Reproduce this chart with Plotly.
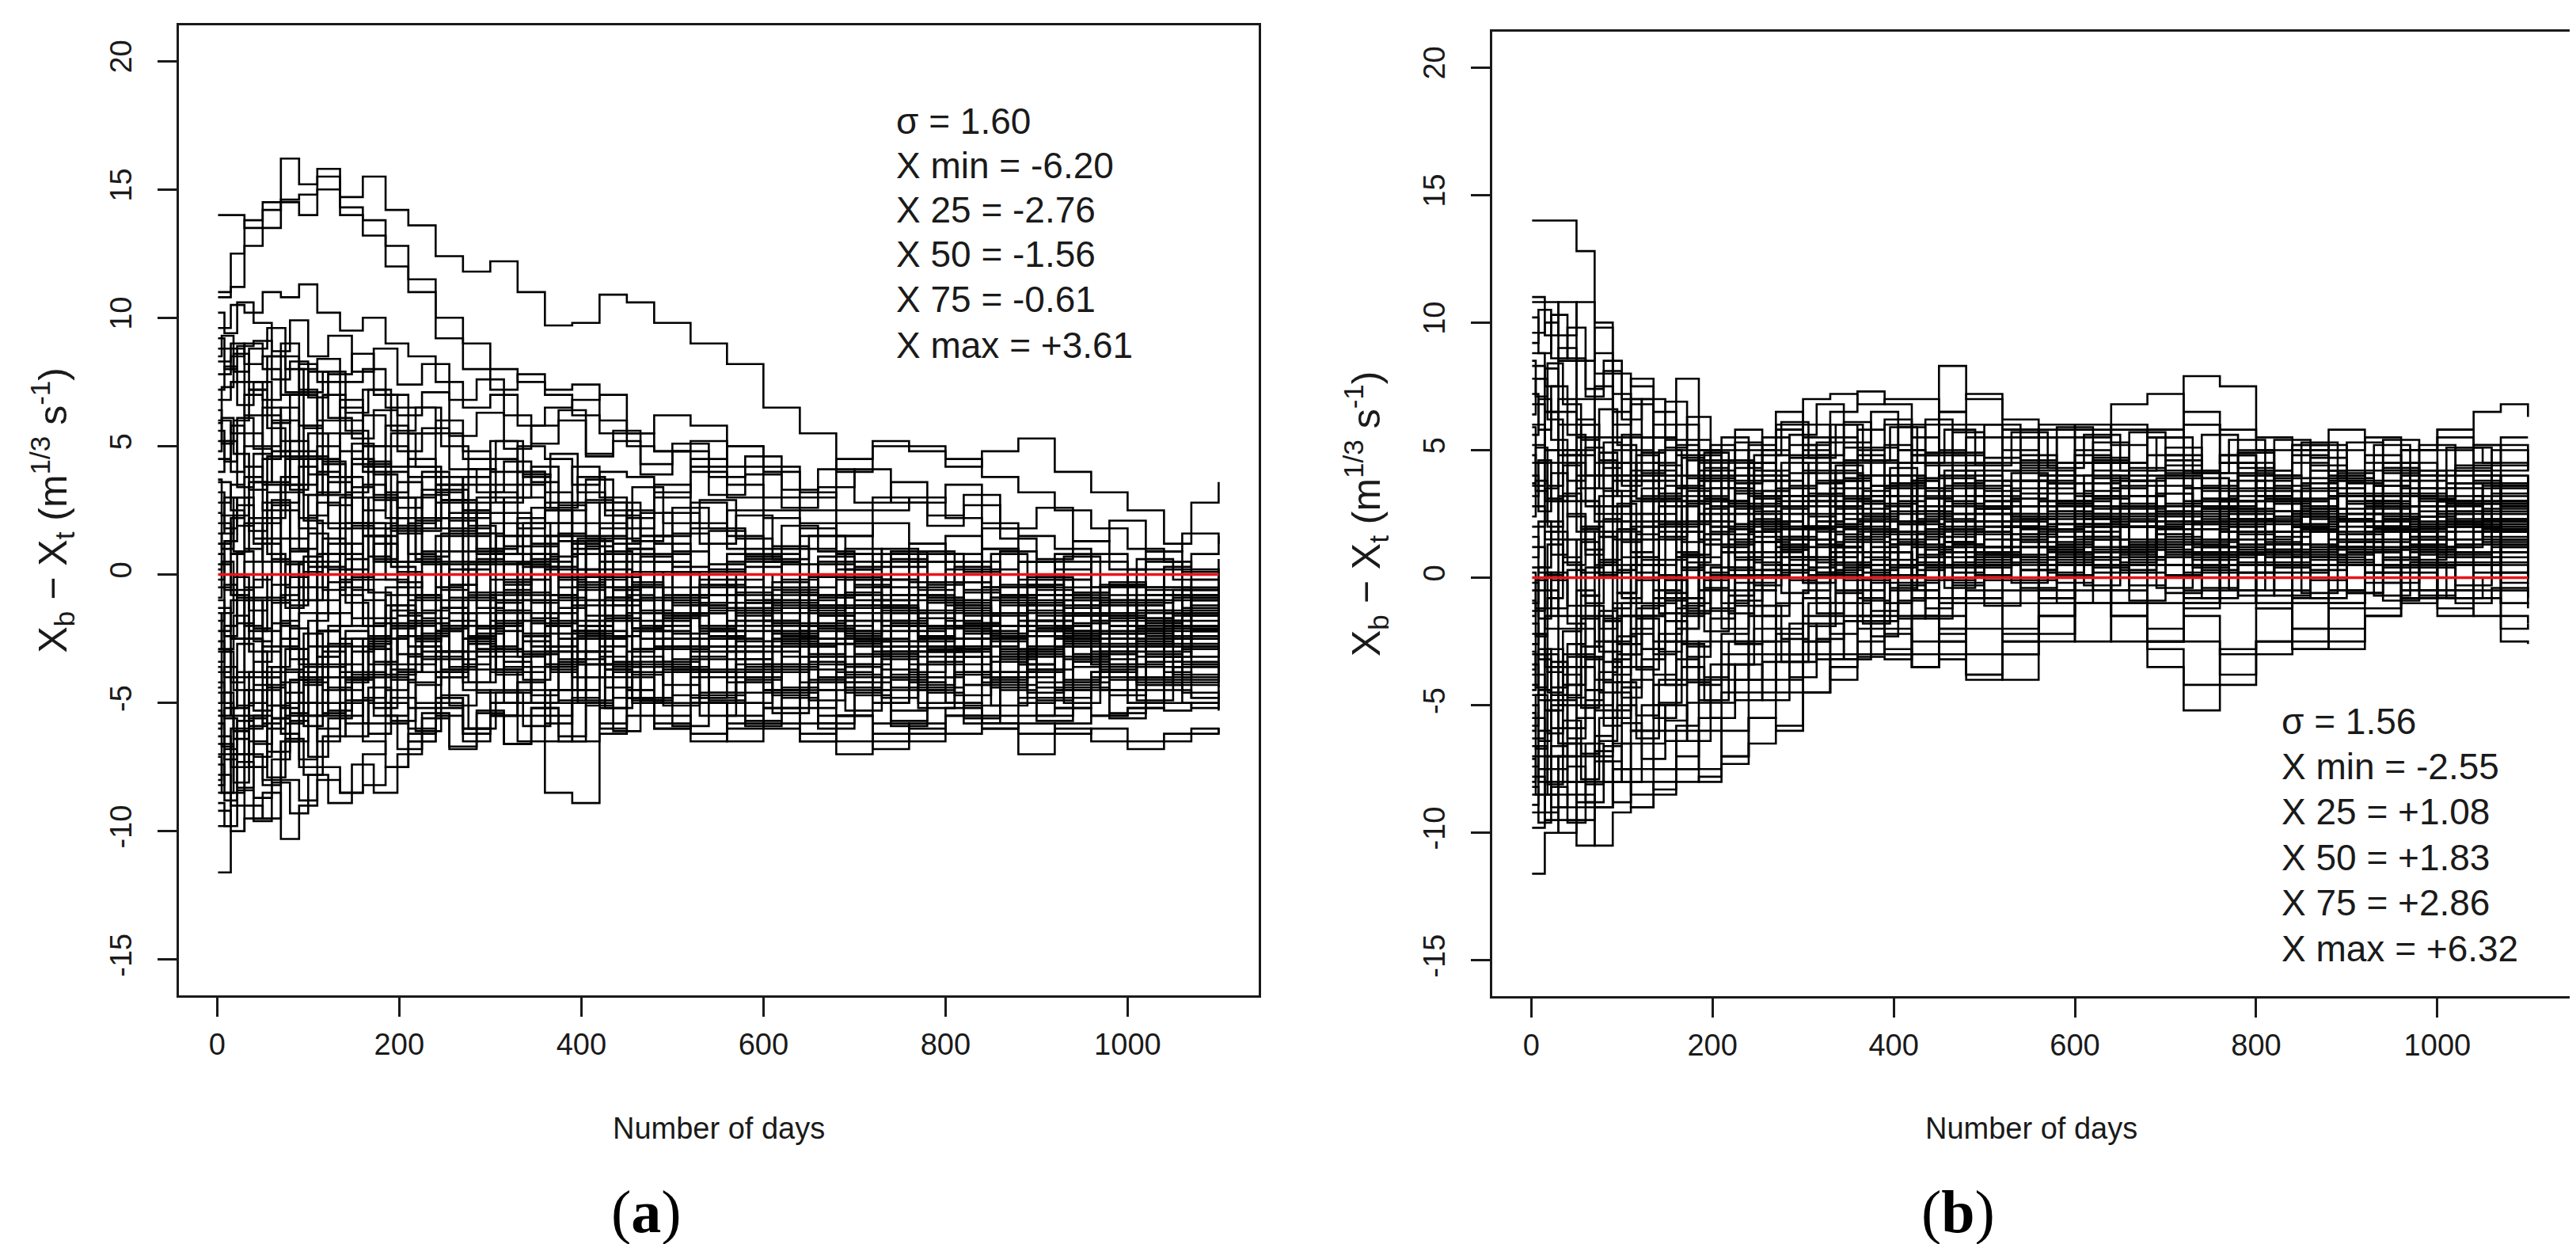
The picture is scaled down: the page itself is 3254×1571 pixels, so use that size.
import plotly.graph_objects as go

W, H = 3254, 1571

# day grids for the read-off values (step lines, R type="s")
DAYS = [1, 15, 30, 50, 70, 90, 110, 135, 160, 185, 210, 240, 270, 300, 330, 360, 390, 420,
        450, 480, 520, 560, 600, 640, 680, 720, 760, 800, 840, 880, 920, 960, 1000, 1040, 1070, 1100]
DAYS2 = [1, 8, 22, 40, 60, 80, 100, 122, 148, 172, 198, 225, 255, 285, 315, 345, 375, 405,
         435, 465, 500, 540, 580, 620, 660, 700, 740, 780, 820, 860, 900, 940, 980, 1020, 1060, 1100]
DAYS3 = [1, 5, 18, 35, 55, 75, 95, 116, 141, 166, 191, 218, 246, 276, 306, 336, 366, 396,
         426, 456, 490, 530, 570, 610, 650, 690, 730, 770, 810, 850, 890, 930, 970, 1010, 1050, 1100]

# (a) differences X_b - X_t, one list per simulation
SERIES_A = [
    [14.0, 14.0, 13.5, 14.2, 14.6, 14.8, 15.0, 14.7, 15.5, 14.2, 13.6, 12.4, 11.8, 12.2, 11.0, 9.7, 9.8, 10.9, 10.6, 9.8, 9.0, 8.2, 6.5, 5.5, 4.0, 5.0, 4.8, 4.5, 3.8, 3.2, 2.5, 1.8, 1.0, 0.5, 0.2, 0.0],
    [11.0, 12.5, 13.8, 14.5, 16.2, 15.2, 15.5, 14.3, 13.8, 12.8, 11.5, 10.0, 9.0, 8.0, 7.5, 7.0, 6.2, 5.5, 5.0, 4.8, 4.0, 3.5, 2.5, 2.0, 1.5, 2.0, 1.2, 0.5, 0.0, -0.5, -0.8, -1.0, -1.2, -0.8, -1.0, -1.2],
    [10.8, 11.2, 12.8, 13.5, 14.5, 14.0, 15.8, 14.0, 13.2, 12.0, 11.0, 9.2, 8.0, 7.2, 7.8, 7.2, 7.4, 6.0, 5.5, 6.2, 5.8, 5.0, 4.2, 3.2, 2.5, 3.0, 2.8, 3.5, 2.0, 1.5, 1.0, 0.5, 0.2, -0.5, -0.2, -0.5],
    [9.6, 10.5, 10.2, 11.0, 10.8, 11.3, 10.2, 9.5, 10.0, 9.0, 8.5, 7.5, 6.5, 7.0, 5.8, 6.5, 6.8, 7.0, 5.5, 4.8, 5.2, 4.2, 3.0, 2.5, 1.5, 2.5, 3.0, 2.2, 1.0, 0.5, -0.2, -0.5, 0.0, -0.8, -1.0, -1.5],
    [8.8, 9.0, 8.2, 8.5, 9.0, 8.0, 8.4, 7.5, 8.0, 7.0, 6.5, 5.5, 4.5, 4.0, 5.0, 4.5, 3.5, 4.0, 3.8, 3.0, 4.2, 5.0, 4.0, 3.0, 4.5, 5.2, 5.0, 4.2, 4.8, 5.3, 4.0, 3.2, 2.5, 1.2, 2.8, 3.6],
    [8.3, 8.8, 7.5, 6.8, 8.5, 7.2, 6.0, 6.5, 5.0, 5.8, 4.2, 3.5, 2.8, 4.5, 3.0, 2.0, 2.8, 1.5, 2.2, 3.5, 2.0, 1.0, 0.5, 1.8, 0.8, -0.5, 0.5, 1.5, 0.2, -0.5, 0.8, 0.0, -1.0, -1.5, -0.8, -1.2],
    [7.8, 8.5, 9.0, 8.0, 7.0, 8.2, 7.5, 6.0, 7.2, 6.5, 5.5, 6.0, 4.8, 3.5, 4.0, 2.5, 1.5, 2.8, 1.0, 0.5, 1.8, 2.5, 1.0, 0.0, -0.8, 0.5, 1.2, 0.0, -1.0, -0.5, -1.5, -0.8, -2.0, -1.5, -2.2, -1.8],
    [6.8, 7.5, 6.2, 5.0, 6.5, 5.8, 4.5, 5.5, 4.0, 3.2, 4.5, 2.8, 3.5, 2.0, 0.8, 1.5, 0.2, -0.5, 1.0, 0.0, -1.2, -0.5, -1.8, -1.0, -2.2, -1.5, -0.8, -2.0, -2.8, -2.0, -1.2, -2.5, -1.8, -2.8, -2.2, -2.5],
    [6.0, 5.5, 7.0, 6.2, 4.8, 3.5, 5.0, 3.8, 2.5, 4.0, 3.0, 1.8, 2.5, 1.0, 2.2, 0.5, 1.2, -0.2, -1.0, 0.5, -0.5, 0.8, -0.5, -1.5, -0.2, -1.2, -2.0, -1.0, -0.5, -1.8, -2.5, -1.2, -0.5, -1.8, -1.0, -0.6],
    [5.2, 4.0, 5.5, 3.5, 2.8, 4.2, 2.0, 3.0, 1.5, 0.5, 2.0, 3.2, 1.5, 2.8, 3.5, 2.0, 0.8, 1.8, 2.5, 1.2, 0.0, -0.8, 0.5, 1.5, 0.2, -1.0, -0.3, 0.8, -0.5, 0.5, -0.8, -1.5, -0.8, 0.3, 0.8, 1.5],
    [4.5, 5.8, 4.2, 2.5, 3.8, 1.8, 0.5, 2.0, 3.5, 2.2, 0.8, -0.5, 0.5, -1.0, -0.2, -1.5, -0.5, 0.8, -0.8, -2.0, -1.2, -2.5, -1.5, -2.8, -3.5, -2.2, -3.0, -1.8, -2.5, -3.2, -2.0, -2.8, -3.5, -2.5, -3.2, -2.8],
    [3.6, 2.5, 1.0, 2.8, 0.5, -1.0, 0.8, -0.5, 1.5, -0.2, -1.5, -0.5, -2.0, -1.0, 0.5, -0.8, -2.2, -1.2, -0.5, -1.8, -3.0, -2.0, -1.0, -2.5, -1.5, -2.8, -2.0, -3.2, -2.2, -1.5, -2.5, -3.5, -2.8, -2.0, -2.8, -3.2],
    [2.8, 3.5, 5.0, 6.5, 5.2, 7.0, 5.5, 6.8, 5.0, 4.2, 5.5, 3.8, 2.5, 3.2, 1.8, 2.5, 1.0, 2.0, 0.5, 1.5, 2.8, 1.5, 0.5, -0.5, 0.8, 0.0, -1.0, 0.2, 1.0, -0.2, 0.5, -0.5, -1.2, -0.5, -1.5, -1.0],
    [2.0, 0.8, -0.5, 1.2, -1.0, 0.5, -1.5, -0.2, -2.0, -0.8, 0.5, -1.0, -2.5, -1.5, -3.0, -2.0, -1.0, -2.5, -3.5, -2.2, -1.5, -3.0, -2.0, -3.5, -2.5, -1.8, -3.2, -2.5, -3.8, -3.0, -2.2, -3.0, -4.0, -3.2, -2.5, -3.0],
    [1.2, 2.2, 3.8, 4.5, 6.0, 4.8, 3.2, 4.8, 6.2, 5.0, 3.8, 2.2, 3.8, 5.2, 4.0, 2.8, 4.2, 3.0, 1.8, 3.2, 4.5, 3.0, 2.2, 1.0, 2.0, 0.8, -0.5, 0.5, 1.8, 0.5, -0.2, 0.8, -0.5, 0.2, -0.8, 0.0],
    [0.4, -0.8, -2.0, -1.0, -2.8, -1.5, -3.2, -2.0, -1.0, -2.5, -3.5, -2.2, -1.0, -2.8, -1.8, -3.5, -2.5, -4.0, -3.0, -1.8, -3.2, -4.2, -3.5, -2.5, -3.8, -4.5, -3.5, -2.8, -4.0, -3.2, -4.5, -3.8, -3.0, -4.0, -3.5, -4.2],
    [-0.5, 0.8, 2.0, 0.5, 2.5, 1.0, 2.8, 1.2, 0.0, 1.8, 0.5, 1.5, 0.2, -0.8, 0.5, 1.5, 0.0, -1.0, 0.8, -0.5, -1.5, -0.2, 0.8, -0.8, -1.8, -0.5, 0.5, -1.2, -2.0, -0.8, 0.2, -1.0, -2.2, -1.5, -0.5, -1.5],
    [-1.3, -2.5, -1.0, -3.0, -1.8, -0.5, -2.2, -3.8, -2.5, -1.2, -2.8, -4.0, -3.0, -1.8, -3.2, -4.5, -3.5, -2.2, -3.8, -5.0, -4.0, -3.0, -4.5, -5.2, -4.2, -3.2, -4.5, -5.0, -4.0, -3.5, -4.8, -4.0, -5.0, -4.2, -4.8, -4.5],
    [-2.2, -1.0, 0.5, 2.0, 3.5, 2.2, 4.0, 5.5, 4.2, 3.0, 1.8, 3.5, 2.2, 0.8, 2.0, 3.2, 2.0, 0.5, -0.5, 0.8, -0.8, 0.5, -1.0, -2.0, -0.8, -1.8, -2.8, -1.5, -0.5, -1.8, -1.0, -2.2, -1.5, -2.5, -1.8, -2.0],
    [-3.0, -4.2, -2.5, -4.0, -5.2, -3.8, -2.2, -3.5, -4.8, -3.5, -2.0, -3.2, -4.5, -5.5, -4.2, -3.0, -4.5, -5.8, -4.5, -3.5, -5.0, -6.0, -5.2, -6.2, -5.5, -6.5, -6.0, -5.5, -6.0, -5.8, -6.2, -6.0, -6.5, -6.2, -6.0, -6.2],
    [-3.8, -2.5, -1.0, -2.2, -0.8, 0.5, -1.0, 0.8, 2.0, 0.5, -0.8, 0.5, 1.8, 0.5, -1.0, 0.2, -1.2, -2.5, -1.0, 0.0, -1.5, -2.8, -1.8, -0.8, -2.2, -3.0, -2.0, -1.0, -2.5, -3.5, -2.8, -1.8, -2.5, -3.2, -2.2, -2.8],
    [-4.6, -5.5, -4.0, -2.8, -4.2, -5.5, -4.0, -2.5, -3.8, -5.0, -6.0, -4.8, -6.2, -5.0, -3.8, -5.0, -6.5, -5.2, -4.0, -5.5, -6.2, -5.0, -6.0, -6.5, -5.5, -6.8, -6.2, -5.5, -5.8, -6.2, -5.8, -5.5, -5.2, -5.0, -5.2, -5.0],
    [-5.5, -4.0, -2.5, -3.8, -2.0, -3.5, -1.5, -2.8, -4.0, -2.5, -1.0, -2.2, -3.5, -2.0, -0.8, -2.0, -3.0, -1.8, -0.5, -1.5, -2.8, -1.8, -0.8, -2.0, -1.2, -0.2, -1.5, -2.5, -1.5, -0.8, -2.0, -1.2, -0.5, -1.8, -1.2, -1.6],
    [-6.3, -7.5, -6.0, -4.5, -6.2, -7.2, -5.5, -4.0, -5.8, -4.5, -3.2, -4.8, -6.0, -5.5, -6.5, -8.5, -8.9, -6.2, -5.5, -6.0, -5.0, -5.8, -5.2, -4.5, -5.5, -5.0, -4.2, -5.0, -5.5, -4.8, -5.2, -4.5, -5.0, -4.5, -4.8, -5.0],
    [-7.0, -6.0, -4.5, -5.8, -3.8, -5.0, -3.2, -4.5, -2.8, -4.0, -5.2, -3.8, -2.5, -3.8, -5.0, -3.5, -2.2, -3.5, -4.8, -3.8, -2.5, -3.8, -4.5, -3.2, -4.0, -5.0, -4.2, -3.2, -4.0, -5.0, -4.5, -3.8, -4.5, -3.8, -4.2, -3.8],
    [-7.8, -9.0, -7.5, -8.2, -6.5, -7.5, -6.0, -5.0, -6.5, -7.5, -6.2, -5.0, -6.5, -5.5, -4.5, -5.8, -4.8, -3.5, -4.8, -6.0, -5.0, -6.5, -5.8, -6.5, -7.0, -6.2, -5.8, -6.2, -6.0, -5.5, -5.2, -5.5, -5.2, -5.3, -5.0, -5.3],
    [-8.5, -7.0, -5.5, -4.0, -2.5, -4.0, -2.2, -0.8, -2.0, -0.5, -1.8, -3.0, -1.5, -0.2, -1.5, -2.8, -1.8, -0.5, -1.8, -2.8, -1.5, -0.5, -1.8, -2.8, -2.0, -1.0, -2.2, -3.0, -2.0, -1.2, -2.5, -1.8, -1.0, -2.0, -1.5, -1.8],
    [-9.2, -10.0, -9.5, -8.5, -10.3, -9.0, -8.0, -8.5, -8.2, -7.5, -6.5, -5.5, -6.2, -5.0, -4.2, -5.5, -4.5, -3.2, -4.5, -3.5, -4.8, -4.0, -3.0, -4.2, -3.5, -2.5, -3.8, -3.0, -4.2, -3.5, -2.8, -3.5, -4.0, -3.0, -3.5, -3.2],
    [-9.8, -8.5, -7.0, -8.0, -6.5, -5.0, -6.5, -5.5, -4.0, -5.5, -4.2, -3.0, -4.2, -3.0, -1.8, -3.0, -4.0, -2.8, -1.5, -2.8, -3.8, -2.5, -3.5, -2.2, -3.2, -4.0, -3.0, -2.0, -3.2, -4.0, -3.2, -2.5, -3.5, -2.8, -2.2, -2.6],
    [-11.6, -10.0, -9.0, -9.5, -8.0, -8.8, -7.5, -8.5, -7.0, -5.8, -6.5, -5.2, -6.0, -4.5, -5.5, -6.5, -5.0, -6.0, -4.8, -5.8, -6.5, -5.5, -4.5, -5.8, -6.5, -5.8, -6.5, -5.2, -5.8, -7.0, -6.0, -6.5, -6.8, -6.5, -6.2, -6.0],
]

# (a) further simulations, read on the DAYS2 grid
SERIES_A2 = [
    [9.2, 8.0, 8.9, 9.1, 7.6, 8.3, 6.9, 7.8, 8.6, 7.0, 6.2, 7.1, 5.4, 6.3, 4.9, 5.8, 6.4, 4.6, 5.2, 3.9, 4.8, 3.1, 3.9, 2.6, 3.4, 4.1, 2.8, 1.9, 2.7, 1.4, 0.6, 1.3, 0.2, 0.9, 0.1, 0.6],
    [7.2, 8.1, 6.6, 7.5, 5.9, 7.0, 7.9, 6.1, 5.3, 6.4, 4.8, 5.7, 4.1, 3.2, 4.4, 3.6, 2.5, 3.7, 2.3, 1.5, 2.6, 1.8, 0.7, 1.9, 0.9, -0.2, 0.8, -0.4, 0.5, -0.9, -0.1, -1.2, -0.3, -1.4, -0.6, -1.1],
    [5.6, 4.4, 6.1, 4.9, 3.6, 5.2, 3.9, 2.7, 4.3, 3.1, 1.9, 3.3, 2.1, 0.8, 2.4, 1.2, -0.1, 1.1, -0.6, 0.7, -0.8, 0.4, -1.3, -0.2, -1.6, -0.5, -1.9, -0.9, -2.3, -1.1, -1.8, -0.7, -1.6, -2.4, -1.3, -1.9],
    [4.0, 5.2, 3.4, 4.7, 6.0, 4.6, 5.5, 3.8, 5.1, 3.9, 2.6, 4.0, 2.9, 1.6, 3.0, 4.2, 2.7, 1.4, 2.8, 1.5, 0.3, 1.7, 0.6, -0.6, 0.7, -0.4, 0.9, -0.3, -1.5, -0.4, -1.6, -0.5, -1.7, -0.8, -1.4, -0.9],
    [3.2, 1.8, 3.0, 1.4, 2.7, 0.9, 2.3, 3.6, 2.0, 0.6, 1.8, 0.4, -0.9, 0.6, -0.6, 0.8, -0.5, -1.8, -0.6, -2.0, -0.9, -2.2, -1.1, -2.4, -1.3, -2.6, -1.5, -2.9, -1.9, -3.1, -2.2, -3.4, -2.5, -1.9, -2.7, -2.3],
    [1.6, 3.0, 1.9, 3.6, 4.8, 3.3, 4.6, 3.1, 4.5, 2.9, 1.6, 3.1, 1.7, 3.0, 1.5, 0.3, 1.6, 2.9, 1.2, 2.4, 0.9, -0.4, 0.7, -0.7, 0.5, -0.8, 0.3, -1.0, 0.1, -1.2, -0.2, -1.5, -0.4, 0.5, -0.6, -0.3],
    [0.8, -0.6, 0.9, -0.9, 0.6, -1.2, 0.3, -1.5, -0.1, 1.2, -0.3, -1.7, -0.4, -2.0, -0.7, 0.6, -0.9, -2.3, -1.0, -2.5, -1.2, 0.1, -1.4, -2.8, -1.6, -0.5, -1.8, -3.0, -1.9, -0.8, -2.1, -3.2, -2.0, -1.0, -2.2, -1.7],
    [-0.2, 1.3, 2.7, 1.2, 2.9, 1.4, 3.1, 1.8, 3.4, 2.0, 3.6, 2.2, 0.9, 2.4, 1.1, 2.6, 1.3, -0.1, 1.4, 0.0, 1.6, 0.2, -1.1, 0.4, -0.9, 0.5, -0.8, 0.8, -0.6, 0.9, -0.5, -1.6, -0.4, -1.8, -0.6, -1.0],
    [-1.0, -2.4, -0.9, -2.6, -1.1, -2.9, -4.2, -2.7, -4.0, -2.5, -3.8, -2.3, -3.6, -2.1, -3.4, -4.7, -3.3, -2.0, -3.5, -4.9, -3.6, -2.2, -3.8, -2.4, -4.0, -2.6, -4.1, -2.8, -4.3, -3.0, -4.4, -3.1, -4.5, -3.2, -4.0, -3.6],
    [-1.8, -0.4, -1.9, -0.2, 1.4, -0.1, 1.6, 0.2, 1.9, 0.5, 2.2, 0.7, 2.4, 0.9, -0.4, 1.1, -0.2, 1.3, 0.0, -1.4, 0.1, -1.3, 0.3, -1.1, 0.4, -1.0, 0.6, -0.9, -2.2, -0.8, -2.1, -0.7, -2.0, -0.6, -1.4, -1.1],
    [-2.6, -4.0, -2.7, -4.3, -5.6, -4.1, -2.8, -4.4, -3.0, -1.7, -3.1, -1.9, -3.3, -4.6, -3.2, -1.9, -3.4, -2.0, -3.6, -2.2, -3.8, -2.4, -4.0, -2.6, -4.2, -2.8, -1.4, -3.0, -1.6, -3.2, -1.8, -3.4, -2.0, -3.6, -2.4, -2.9],
    [-3.4, -2.0, -0.6, -2.1, -0.4, 1.0, -0.5, 1.2, -0.2, 1.5, 0.1, -1.4, 0.2, -1.3, 0.4, -1.1, -2.5, -1.0, -2.4, -0.9, -2.3, -0.8, -2.2, -3.6, -2.1, -3.5, -2.0, -3.4, -1.9, -3.3, -1.8, -3.2, -1.7, -3.1, -2.0, -2.5],
    [-4.2, -5.6, -7.0, -5.5, -6.9, -5.4, -4.0, -5.3, -3.9, -5.2, -3.8, -2.4, -3.7, -2.3, -3.6, -5.0, -3.5, -4.9, -3.4, -4.8, -3.3, -4.7, -5.9, -4.6, -5.8, -4.5, -5.7, -4.4, -5.6, -4.3, -5.5, -4.2, -5.4, -4.1, -4.6, -4.9],
    [-5.0, -3.6, -5.1, -3.4, -1.9, -3.3, -1.8, -0.3, -1.7, -0.2, -1.6, -3.0, -1.5, -2.9, -1.4, -2.8, -1.3, -0.1, -1.2, 0.0, -1.1, -2.4, -1.0, -2.3, -0.9, 0.3, -0.8, -2.1, -0.7, -2.0, -0.6, -1.9, -0.5, -1.8, -0.9, -1.3],
    [-5.8, -7.2, -5.7, -7.1, -5.6, -4.1, -5.5, -4.0, -2.5, -3.9, -2.4, -3.8, -5.1, -3.7, -5.0, -3.6, -4.9, -3.5, -4.8, -3.4, -4.7, -3.3, -4.6, -3.2, -4.5, -3.1, -4.4, -3.0, -4.3, -2.9, -4.2, -2.8, -4.1, -2.7, -3.5, -3.9],
    [-6.6, -5.2, -3.8, -5.3, -3.6, -2.1, -3.5, -2.0, -0.6, -1.9, -0.5, 0.9, -0.4, 1.0, -0.3, -1.7, -0.2, -1.6, -0.1, -1.5, -2.9, -1.4, -2.8, -1.3, -2.7, -1.2, -2.6, -1.1, -2.5, -1.0, -2.4, -0.9, -2.3, -0.8, -1.6, -2.0],
    [-7.4, -8.8, -7.3, -8.7, -7.2, -5.7, -7.1, -5.6, -4.1, -5.5, -6.8, -5.4, -6.7, -5.3, -6.6, -5.2, -6.5, -5.1, -3.8, -5.0, -3.7, -4.9, -3.6, -4.8, -6.0, -4.7, -5.9, -4.6, -5.8, -4.5, -5.7, -4.4, -5.6, -4.3, -5.0, -4.6],
    [-8.2, -6.8, -8.3, -6.6, -5.1, -6.5, -5.0, -3.5, -4.9, -3.4, -1.9, -3.3, -1.8, -3.2, -4.6, -3.1, -4.5, -3.0, -1.7, -2.9, -1.6, -2.8, -4.1, -2.7, -4.0, -2.6, -3.9, -2.5, -3.8, -2.4, -3.7, -2.3, -3.6, -2.2, -2.9, -3.3],
    [-8.9, -9.8, -8.4, -9.6, -8.1, -9.3, -7.8, -8.9, -7.4, -8.5, -7.0, -5.6, -6.8, -5.4, -6.6, -5.2, -6.3, -5.0, -6.1, -4.8, -5.9, -4.6, -5.7, -4.4, -5.5, -4.2, -5.3, -4.0, -5.1, -3.8, -4.9, -3.6, -4.7, -3.4, -4.1, -4.4],
    [10.2, 9.4, 10.6, 9.8, 8.7, 9.9, 8.5, 9.3, 7.9, 8.8, 7.4, 8.2, 6.8, 7.6, 6.2, 5.1, 6.0, 4.7, 5.6, 4.3, 5.1, 3.8, 4.6, 3.3, 4.1, 2.8, 3.6, 2.3, 3.1, 1.8, 2.6, 1.3, 2.1, 0.9, 1.6, 1.2],
]

# (a) further simulations, read on the DAYS3 grid
SERIES_A3 = [
    [8.5, 9.3, 7.9, 8.8, 9.6, 8.0, 7.1, 7.9, 6.3, 7.2, 5.6, 6.5, 5.0, 4.1, 5.2, 3.8, 4.7, 3.2, 2.3, 3.4, 2.0, 2.9, 1.4, 0.6, 1.5, 0.2, 1.0, -0.6, 0.3, -0.9, -0.1, -1.3, -0.4, -1.7, -0.9, -1.3],
    [6.4, 5.1, 6.0, 7.2, 5.7, 4.6, 5.8, 4.3, 3.2, 4.4, 3.0, 2.1, 3.3, 1.9, 0.8, 2.0, 0.7, -0.4, 0.9, -0.3, -1.5, -0.2, -1.4, -2.6, -1.3, -0.1, -1.2, -2.4, -1.1, -2.3, -1.0, -2.2, -3.3, -2.1, -2.8, -2.4],
    [4.8, 6.1, 4.7, 3.3, 4.6, 3.2, 4.5, 3.1, 1.8, 3.0, 1.7, 0.5, 1.6, 0.4, 1.5, 0.3, -0.8, 0.2, -0.9, 0.1, -1.0, -2.1, -1.1, -2.2, -1.2, -2.3, -1.3, -2.4, -3.5, -2.5, -1.4, -2.6, -1.5, -2.7, -2.0, -2.2],
    [2.4, 1.0, 2.3, 3.6, 2.2, 3.5, 2.1, 0.8, 2.0, 0.7, 1.9, 0.6, -0.6, 0.5, -0.7, 0.4, -0.8, -2.0, -0.9, -2.1, -1.0, -2.2, -3.3, -2.3, -1.2, -2.4, -1.3, -2.5, -1.4, -2.6, -3.7, -2.7, -1.6, -2.8, -2.1, -2.5],
    [0.2, 1.6, 3.0, 1.7, 3.2, 4.5, 3.1, 4.4, 3.0, 1.8, 3.0, 1.7, 2.9, 1.6, 0.4, 1.5, 0.3, 1.4, 0.2, -1.0, 0.1, -1.1, 0.0, -1.2, -0.1, -1.3, -0.2, -1.4, -0.3, -1.5, -0.4, -1.6, -0.5, -1.7, -1.0, -0.8],
    [-1.5, -2.9, -1.6, -3.0, -4.3, -2.9, -4.2, -2.8, -4.1, -2.7, -1.4, -2.6, -1.3, -2.5, -3.7, -2.4, -3.6, -2.3, -3.5, -2.2, -3.4, -4.6, -3.3, -4.5, -3.2, -4.4, -3.1, -4.3, -3.0, -4.2, -2.9, -4.1, -2.8, -4.0, -3.4, -3.7],
    [-2.9, -1.5, -0.1, -1.4, 0.0, -1.3, 0.1, 1.4, 0.2, 1.5, 0.3, -0.9, 0.4, -0.8, -2.0, -0.7, -1.9, -0.6, -1.8, -0.5, -1.7, -0.4, -1.6, -2.8, -1.5, -2.7, -1.4, -2.6, -1.3, -2.5, -1.2, -2.4, -1.1, -2.3, -1.5, -1.9],
    [-4.4, -3.0, -4.5, -5.9, -4.4, -5.8, -4.3, -3.0, -4.2, -2.9, -4.1, -2.8, -4.0, -2.7, -3.9, -2.6, -3.8, -5.0, -3.7, -4.9, -3.6, -4.8, -3.5, -4.7, -3.4, -4.6, -3.3, -4.5, -3.2, -4.4, -3.1, -4.3, -3.0, -4.2, -3.6, -4.0],
    [-5.3, -6.7, -5.2, -3.8, -5.1, -3.7, -2.3, -3.6, -2.2, -3.5, -2.1, -0.8, -2.0, -0.7, -1.9, -3.1, -1.8, -3.0, -1.7, -2.9, -1.6, -2.8, -1.5, -0.3, -1.4, -0.2, -1.3, -2.5, -1.2, -2.4, -1.1, -2.3, -1.0, -2.2, -1.6, -1.4],
    [-6.0, -4.6, -6.1, -7.5, -6.0, -4.6, -5.9, -4.5, -5.8, -4.4, -5.7, -4.3, -3.0, -4.2, -2.9, -4.1, -2.8, -4.0, -5.2, -3.9, -5.1, -3.8, -5.0, -3.7, -4.9, -3.6, -4.8, -3.5, -4.7, -3.4, -4.6, -3.3, -4.5, -3.2, -3.9, -3.6],
    [-7.1, -8.5, -7.0, -5.6, -6.9, -5.5, -4.1, -5.4, -4.0, -2.6, -3.9, -2.5, -3.8, -2.4, -1.1, -2.3, -1.0, -2.2, -0.9, -2.1, -0.8, -2.0, -0.7, -1.9, -3.1, -1.8, -3.0, -1.7, -2.9, -1.6, -2.8, -1.5, -2.7, -1.4, -2.0, -2.3],
    [-8.0, -6.6, -8.1, -6.5, -7.9, -6.4, -7.8, -6.3, -4.9, -6.2, -4.8, -6.1, -4.7, -6.0, -4.6, -5.9, -4.5, -3.3, -4.4, -3.2, -4.3, -5.5, -4.2, -5.4, -4.1, -5.3, -4.0, -5.2, -3.9, -5.1, -3.8, -5.0, -3.7, -4.9, -4.3, -4.6],
    [5.9, 7.3, 8.6, 7.2, 8.5, 7.1, 5.7, 7.0, 5.6, 4.3, 5.5, 4.2, 2.9, 4.1, 2.8, 3.9, 2.6, 3.8, 2.5, 1.3, 2.4, 1.2, 2.3, 1.1, -0.1, 1.0, -0.2, 0.9, -0.3, 0.8, -0.4, 0.7, -0.5, 0.6, -0.2, 0.1],
    [3.7, 2.3, 0.9, 2.2, 0.8, -0.5, 0.7, -0.6, 0.6, -0.7, -2.0, -0.8, -2.1, -0.9, -2.2, -1.0, -2.3, -3.5, -2.4, -3.6, -2.5, -3.7, -2.6, -3.8, -2.7, -3.9, -2.8, -4.0, -2.9, -4.1, -3.0, -4.2, -3.1, -4.3, -3.6, -3.3],
    [-0.9, 0.5, -0.8, -2.2, -0.9, 0.4, -1.0, 0.3, -1.1, -2.4, -1.2, -2.5, -1.3, -2.6, -1.4, -0.2, -1.5, -0.3, -1.6, -0.4, -1.7, -0.5, -1.8, -0.6, -1.9, -0.7, -2.0, -0.8, -2.1, -0.9, -2.2, -1.0, -2.3, -1.1, -0.6, -0.9],
    [-3.6, -5.0, -6.4, -5.0, -3.6, -5.0, -3.6, -5.0, -6.3, -5.0, -3.7, -5.0, -3.7, -2.4, -3.7, -2.4, -3.7, -2.4, -3.7, -5.0, -3.7, -5.0, -3.7, -2.5, -3.7, -2.5, -3.7, -5.0, -3.8, -2.5, -3.8, -2.6, -3.8, -2.6, -3.2, -3.0],
]

# (b)
SERIES_B = [
    [14.0, 14.0, 14.0, 12.8, 10.0, 8.0, 7.5, 6.0, 5.0, 4.2, 5.5, 4.5, 5.8, 7.0, 7.2, 6.8, 7.0, 7.0, 6.5, 6.0, 5.5, 6.0, 5.8, 6.0, 5.5, 6.5, 5.8, 5.0, 5.2, 5.0, 5.5, 5.0, 5.8, 6.5, 6.8, 6.3],
    [11.0, 10.8, 9.5, 10.8, 8.0, 6.5, 7.8, 5.5, 3.5, 4.8, 3.0, 4.5, 6.0, 5.2, 6.5, 7.3, 6.8, 5.5, 8.3, 7.0, 6.2, 5.5, 6.0, 5.2, 5.8, 7.9, 7.5, 5.5, 5.0, 5.8, 4.5, 5.0, 5.5, 5.2, 5.5, 5.5],
    [10.8, 9.5, 10.8, 8.5, 9.8, 7.2, 5.0, 6.5, 4.8, 3.0, 4.5, 2.5, 3.8, 5.5, 4.2, 5.8, 6.2, 4.8, 6.5, 7.2, 5.0, 4.0, 5.5, 6.8, 7.2, 6.0, 4.5, 4.0, 4.8, 3.5, 4.2, 5.0, 5.8, 4.5, 5.2, 4.8],
    [9.6, 10.0, 8.5, 7.0, 8.8, 6.0, 7.0, 4.5, 6.0, 3.8, 2.5, 4.0, 2.8, 4.5, 3.0, 4.8, 3.5, 2.2, 4.0, 5.5, 4.2, 3.0, 4.5, 5.8, 4.2, 3.0, 4.5, 3.2, 2.0, 3.5, 4.8, 3.5, 2.5, 4.0, 3.2, 3.8],
    [8.8, 7.5, 9.0, 6.0, 7.5, 4.5, 6.8, 5.5, 7.8, 5.0, 3.5, 5.0, 3.5, 2.0, 3.5, 2.2, 4.0, 2.5, 1.2, 2.8, 1.5, 3.0, 1.8, 0.5, 2.0, 3.5, 2.2, 1.0, 2.5, 1.2, 2.8, 1.5, 0.5, 2.0, 0.8, 1.5],
    [8.3, 6.5, 4.5, 6.2, 3.5, 5.0, 2.5, 4.0, 2.0, 3.5, 5.0, 3.2, 4.8, 6.0, 4.5, 3.0, 4.5, 6.0, 4.8, 3.2, 4.5, 5.8, 4.5, 3.2, 4.8, 6.0, 4.5, 3.5, 5.0, 4.0, 3.0, 4.5, 3.5, 5.2, 4.2, 4.8],
    [7.8, 8.2, 6.0, 4.0, 2.2, 3.8, 1.5, 3.0, 0.8, 2.5, 1.0, 2.8, 1.5, 3.2, 2.0, 0.5, 2.2, 3.5, 2.0, 0.8, 2.5, 1.2, 2.8, 4.0, 2.5, 1.0, 2.5, 3.8, 2.5, 1.2, 2.5, 3.5, 2.2, 1.0, 2.2, 1.8],
    [6.8, 5.0, 7.0, 5.5, 4.0, 2.5, 4.2, 2.0, 3.5, 1.5, 0.0, 1.8, 3.0, 1.5, 0.2, 1.8, 0.5, -0.8, 0.5, 2.0, 0.8, -0.5, 1.0, 2.5, 1.2, 0.0, 1.5, 0.5, -0.8, 0.5, 1.8, 0.5, -0.5, 0.8, -0.2, 0.5],
    [6.0, 4.5, 3.0, 4.8, 2.5, 4.0, 5.5, 3.8, 5.2, 4.0, 2.8, 4.5, 5.8, 4.2, 5.5, 4.0, 5.2, 3.8, 5.0, 3.5, 2.2, 3.8, 5.0, 3.5, 2.2, 3.5, 4.8, 3.2, 4.5, 3.2, 2.0, 3.2, 4.2, 3.0, 4.0, 3.5],
    [5.2, 6.5, 4.8, 3.0, 4.5, 2.8, 1.0, 2.5, 4.0, 2.2, 3.5, 1.8, 0.5, 2.0, 3.2, 1.5, 0.0, 1.2, 2.5, 1.0, -0.5, 0.8, 2.0, 0.5, -1.0, 0.5, 1.8, 0.2, -1.0, 0.5, 1.5, 0.0, -0.8, 0.8, -0.5, -0.2],
    [4.5, 3.0, 1.5, 0.0, 1.8, 0.2, 2.0, 0.5, 2.2, 3.8, 2.5, 3.8, 2.5, 1.2, 2.8, 4.0, 2.8, 1.5, 2.8, 4.0, 2.5, 1.2, 2.5, 3.8, 2.5, 1.5, 3.0, 1.8, 0.8, 2.2, 3.2, 2.0, 3.0, 1.8, 2.8, 2.2],
    [3.6, 5.0, 6.5, 5.0, 7.0, 5.5, 4.0, 5.5, 3.5, 5.0, 3.8, 5.2, 6.5, 5.0, 3.8, 5.0, 6.0, 4.5, 3.2, 4.5, 5.8, 4.2, 3.0, 4.5, 5.8, 4.2, 3.0, 4.2, 5.2, 3.8, 2.8, 4.0, 5.0, 3.8, 2.8, 3.2],
    [2.8, 1.5, 0.0, -1.5, 0.2, -1.2, 0.5, -0.8, 1.0, -0.5, 1.2, 2.5, 1.0, -0.2, 1.2, 2.5, 1.0, -0.5, -2.0, -0.8, 0.5, 1.8, 0.5, -1.0, -2.5, -1.2, 0.2, -1.2, 0.2, 1.5, 0.2, -1.0, 0.5, 1.5, 0.2, 0.8],
    [2.0, 3.5, 5.0, 3.5, 5.5, 4.0, 2.5, 4.2, 2.8, 1.5, 3.0, 1.8, 3.2, 2.0, 0.8, 2.2, 3.5, 2.2, 1.0, 2.5, 3.8, 2.5, 1.2, 2.8, 4.0, 2.8, 1.5, 3.0, 2.0, 3.2, 2.2, 1.2, 2.5, 3.5, 2.5, 2.9],
    [1.2, -0.5, -2.0, -0.5, -2.5, -1.0, 0.5, -1.0, 0.8, -0.5, 1.0, 2.2, 0.8, 2.0, 0.5, -0.8, -2.2, -3.5, -2.0, -3.8, -3.0, -1.5, 0.0, -1.5, -2.8, -4.2, -2.8, -1.2, -2.5, -1.0, 0.5, -0.8, 0.8, -0.5, -1.5, -1.8],
    [0.4, 1.8, 3.2, 1.8, 0.5, 2.2, 3.8, 2.2, 0.8, 2.5, 4.0, 2.8, 1.5, 3.0, 4.5, 3.0, 1.8, 3.2, 4.5, 3.2, 2.0, 3.5, 4.8, 3.5, 2.2, 3.5, 4.8, 3.5, 2.5, 3.8, 2.8, 1.8, 3.0, 4.0, 3.0, 2.5],
    [-0.5, -2.0, -3.5, -2.0, -4.0, -2.5, -1.0, -2.5, -0.8, 0.8, -0.5, 1.0, 2.2, 0.8, 2.0, 3.2, 1.8, 0.5, -0.8, 0.8, 2.0, 0.5, -0.5, 1.0, 2.2, 0.8, -0.5, 1.0, 2.0, 0.8, -0.2, 1.2, 2.2, 1.0, 1.8, 1.2],
    [-1.3, 0.2, -1.5, -3.0, -1.5, -3.5, -2.0, -0.5, -2.0, -0.5, 1.0, -0.5, 0.8, 2.0, 0.8, 2.2, 1.0, -0.2, 1.2, 2.5, 1.2, 0.0, 1.5, 2.8, 1.5, 0.2, 1.8, 3.0, 1.8, 0.5, 1.8, 2.8, 1.5, 0.5, 1.5, 1.0],
    [-2.2, -3.5, -5.0, -3.5, -5.2, -3.8, -2.2, -3.8, -2.0, -0.5, -2.0, -0.2, 1.2, -0.2, 1.2, 2.5, 1.0, -0.5, 1.0, 2.2, 0.8, -0.8, 0.8, 2.0, 0.5, -1.0, 0.5, 1.8, 0.5, -1.0, 0.5, 1.8, 0.8, 2.0, 1.0, 1.5],
    [-3.0, -1.5, 0.0, 1.5, 0.0, 1.5, 3.0, 1.5, 3.0, 4.5, 3.0, 4.5, 3.2, 4.8, 6.0, 4.5, 3.2, 4.8, 6.0, 4.5, 5.8, 4.5, 3.2, 4.5, 5.5, 4.2, 3.0, 4.2, 3.0, 1.8, 3.2, 4.2, 3.0, 2.0, 3.5, 2.8],
    [-3.8, -5.2, -6.5, -5.0, -6.8, -5.2, -3.5, -5.0, -3.2, -4.8, -3.0, -1.5, -3.0, -1.5, 0.0, -1.5, -3.0, -1.5, -3.2, -3.8, -2.2, -0.8, 0.5, -1.0, -2.5, -1.0, 0.5, -1.0, -2.8, -1.2, 0.2, -0.8, 0.5, -0.8, -2.5, -2.6],
    [-4.6, -3.0, -4.8, -6.5, -5.0, -3.2, -1.5, -3.0, -1.2, 0.5, -1.0, 0.8, 2.2, 0.8, 2.5, 1.0, 2.5, 3.8, 2.5, 1.2, 2.8, 4.0, 2.5, 1.2, 2.8, 4.2, 2.8, 1.5, 3.0, 4.2, 3.0, 1.8, 3.0, 4.2, 3.0, 3.5],
    [-5.5, -7.0, -8.5, -7.0, -9.0, -7.5, -6.0, -7.5, -5.8, -4.2, -2.5, -4.0, -2.2, -0.8, -2.2, -0.5, 1.0, -0.5, 1.0, -0.5, -2.0, -0.5, 1.0, -0.5, -2.0, -0.5, 1.0, -0.5, -2.0, -0.5, 1.0, -0.5, 1.2, 0.0, 1.0, 0.4],
    [-6.3, -4.8, -6.5, -8.0, -6.2, -4.5, -6.0, -4.2, -2.5, -4.0, -2.2, -0.5, -2.0, -0.5, 1.0, -0.5, -2.0, -3.5, -2.2, -0.8, 0.8, -0.8, 0.8, 2.2, 0.8, -0.8, 0.8, 2.2, 0.8, -0.5, 1.0, 2.2, 1.0, 2.2, 1.2, 1.8],
    [-7.0, -8.5, -7.0, -8.8, -7.2, -8.8, -7.5, -6.0, -7.5, -6.0, -4.5, -3.0, -4.5, -3.0, -1.5, -3.0, -1.5, 0.0, -1.5, -3.0, -4.0, -2.5, -1.0, 0.5, -1.0, -2.5, -3.8, -2.5, -1.0, -2.5, -1.2, 0.2, -1.2, 0.2, -1.0, -0.5],
    [-7.8, -9.2, -8.0, -9.5, -8.0, -6.5, -8.0, -8.3, -7.0, -5.5, -7.0, -5.5, -4.0, -2.5, -4.0, -2.5, -1.0, -2.5, -1.0, 0.5, -1.0, 0.5, 2.0, 0.5, 2.0, 0.5, -1.0, 0.5, 2.0, 0.5, 2.0, 3.2, 2.0, 3.2, 2.0, 2.2],
    [-8.5, -9.5, -10.0, -9.0, -10.5, -9.2, -9.0, -8.5, -8.0, -7.8, -7.3, -6.5, -5.8, -4.5, -3.5, -3.1, -3.2, -3.0, -2.5, -2.0, -3.0, -2.2, -1.0, -2.5, -3.5, -5.2, -4.2, -3.0, -2.0, -2.8, -1.5, -0.5, -1.5, 0.0, -1.0, -1.2],
    [-9.2, -8.0, -9.5, -8.5, -9.0, -8.0, -8.5, -8.0, -7.5, -8.0, -7.0, -5.5, -6.0, -4.5, -3.2, -2.0, -2.8, -3.5, -2.5, -1.0, -2.5, -1.5, 0.0, -1.5, -2.5, -1.5, -3.0, -2.5, -2.8, -2.0, -1.5, -0.8, -0.5, -1.5, -2.0, -1.8],
    [-9.8, -8.5, -7.0, -5.5, -7.0, -5.5, -4.0, -5.5, -4.0, -2.5, -4.0, -2.5, -1.0, -2.5, -1.0, 0.5, -1.0, 0.5, -1.0, 0.5, 2.0, 0.5, -1.0, 0.5, 2.0, 0.5, 2.0, 0.5, 2.0, 0.5, 2.0, 0.5, 2.0, 0.5, 1.5, 1.0],
    [-11.6, -10.0, -9.0, -10.5, -9.0, -7.5, -9.0, -7.5, -6.0, -7.5, -6.0, -4.5, -3.0, -4.5, -3.0, -1.5, -3.0, -1.5, -3.0, -4.0, -2.5, -1.0, -2.5, -1.0, 0.5, -1.0, 0.5, -1.0, 0.5, -1.0, 0.5, 2.0, 0.5, 2.0, 0.5, 1.2],
]

# (b) further simulations, read on the DAYS2 grid
SERIES_B2 = [
    [9.2, 10.5, 8.6, 9.8, 7.4, 8.1, 6.2, 7.0, 5.1, 6.3, 4.6, 5.8, 4.2, 5.6, 6.8, 5.3, 6.5, 5.0, 6.2, 4.8, 6.0, 4.6, 5.9, 4.5, 5.7, 4.4, 5.6, 4.3, 5.4, 4.2, 5.3, 4.1, 5.2, 4.0, 5.0, 4.6],
    [7.2, 5.8, 7.5, 5.6, 4.0, 5.3, 3.6, 4.9, 3.2, 4.6, 2.8, 4.3, 5.5, 4.1, 5.3, 3.9, 5.1, 3.7, 4.9, 3.5, 4.7, 3.3, 4.5, 3.1, 4.3, 2.9, 4.1, 2.7, 3.9, 2.5, 3.7, 2.3, 3.5, 2.1, 3.3, 2.7],
    [5.6, 7.0, 5.4, 3.8, 5.1, 3.4, 1.8, 3.2, 1.5, 2.9, 4.2, 2.7, 4.0, 2.5, 3.8, 2.3, 3.6, 2.1, 3.4, 1.9, 3.2, 1.7, 3.0, 1.5, 2.8, 1.3, 2.6, 1.1, 2.4, 0.9, 2.2, 0.7, 2.0, 0.5, 1.8, 1.3],
    [4.0, 2.6, 4.1, 2.4, 0.9, 2.3, 0.8, 2.2, 3.6, 2.1, 3.5, 2.0, 3.4, 4.7, 3.3, 4.6, 3.2, 4.5, 3.1, 4.4, 3.0, 4.3, 2.9, 4.2, 2.8, 4.1, 2.7, 4.0, 2.6, 3.9, 2.5, 3.8, 2.4, 3.7, 2.9, 3.3],
    [3.2, 4.6, 3.0, 4.5, 2.8, 4.3, 5.6, 4.1, 5.4, 3.9, 5.2, 3.7, 5.0, 3.5, 4.8, 6.1, 4.6, 5.9, 4.4, 5.7, 4.2, 5.5, 4.0, 5.3, 3.8, 5.1, 3.6, 4.9, 3.4, 4.7, 3.2, 4.5, 3.0, 4.3, 3.6, 4.0],
    [1.6, 0.2, -1.2, 0.3, -1.0, 0.5, -0.8, 0.7, -0.6, 0.9, 2.2, 0.8, 2.1, 0.7, 2.0, 0.6, 1.9, 0.5, 1.8, 0.4, 1.7, 0.3, 1.6, 0.2, 1.5, 0.1, 1.4, 0.0, 1.3, -0.1, 1.2, -0.2, 1.1, -0.3, 0.6, 0.2],
    [0.8, 2.2, 0.9, 2.5, 1.1, 2.8, 1.4, 3.0, 1.6, 3.2, 1.8, 3.4, 2.0, 3.6, 2.2, 3.8, 2.4, 4.0, 2.6, 4.2, 2.8, 4.4, 3.0, 4.6, 3.2, 4.8, 3.4, 5.0, 3.6, 5.2, 3.8, 5.4, 4.0, 5.1, 4.4, 4.8],
    [-0.2, -1.6, -0.1, -1.8, -3.2, -1.7, -3.0, -1.5, -0.1, -1.3, 0.1, -1.1, 0.3, 1.6, 0.2, 1.5, 0.1, 1.4, 0.0, 1.3, -0.1, 1.2, -0.2, 1.1, -0.3, 1.0, -0.4, 0.9, -0.5, 0.8, -0.6, 0.7, -0.7, 0.6, 0.0, 0.3],
    [-1.0, 0.4, 1.8, 0.5, 2.0, 0.7, 2.2, 3.5, 2.1, 3.4, 2.0, 3.3, 1.9, 3.2, 1.8, 3.1, 1.7, 3.0, 1.6, 2.9, 1.5, 2.8, 1.4, 2.7, 1.3, 2.6, 1.2, 2.5, 1.1, 2.4, 1.0, 2.3, 0.9, 2.2, 1.5, 1.8],
    [-1.8, -3.2, -4.6, -3.1, -4.4, -2.9, -1.5, -2.8, -1.4, 0.0, -1.3, 0.1, 1.4, 0.0, 1.3, -0.1, 1.2, -0.2, 1.1, -0.3, 1.0, -0.4, 0.9, -0.5, 0.8, -0.6, 0.7, -0.7, 0.6, -0.8, 0.5, -0.9, 0.4, -1.0, -0.4, -0.8],
    [-2.6, -1.2, 0.2, -1.1, 0.4, 1.8, 0.5, 2.0, 0.7, 2.2, 3.5, 2.1, 3.4, 2.0, 3.3, 1.9, 3.2, 1.8, 3.1, 1.7, 3.0, 1.6, 2.9, 1.5, 2.8, 1.4, 2.7, 1.3, 2.6, 1.2, 2.5, 1.1, 2.4, 1.0, 1.8, 2.1],
    [-3.4, -4.8, -3.3, -4.7, -3.1, -1.6, -3.0, -1.5, -0.1, -1.4, 0.0, 1.4, 0.1, 1.5, 0.2, 1.6, 0.3, 1.7, 0.4, 1.8, 0.5, 1.9, 0.6, 2.0, 0.7, 2.1, 0.8, 2.2, 0.9, 2.3, 1.0, 2.4, 1.1, 2.5, 1.8, 2.2],
    [-4.2, -2.8, -4.3, -2.6, -1.1, -2.5, -1.0, 0.5, -0.9, 0.6, 2.0, 0.7, 2.1, 0.8, 2.2, 3.5, 2.3, 3.6, 2.4, 3.7, 2.5, 3.8, 2.6, 3.9, 2.7, 4.0, 2.8, 4.1, 2.9, 4.2, 3.0, 4.3, 3.1, 4.4, 3.7, 4.0],
    [-5.0, -6.4, -5.0, -6.3, -4.8, -3.3, -4.7, -3.2, -1.7, -3.1, -1.6, -0.2, -1.5, -0.1, -1.4, 0.0, -1.3, 0.1, -1.2, 0.2, -1.1, 0.3, -1.0, 0.4, -0.9, 0.5, -0.8, 0.6, -0.7, 0.7, -0.6, 0.8, -0.5, 0.9, 0.2, 0.5],
    [-5.8, -4.4, -5.9, -4.2, -2.7, -4.1, -2.6, -1.1, -2.5, -1.0, 0.4, -0.9, 0.5, 1.9, 0.6, 2.0, 0.7, 2.1, 0.8, 2.2, 0.9, 2.3, 1.0, 2.4, 1.1, 2.5, 1.2, 2.6, 1.3, 2.7, 1.4, 2.8, 1.5, 2.9, 2.2, 2.6],
    [-6.6, -8.0, -6.6, -8.0, -6.5, -8.0, -6.5, -5.0, -6.4, -4.9, -3.4, -4.8, -3.3, -1.8, -3.2, -1.7, -0.2, -1.6, -0.1, 1.3, 0.0, 1.4, 0.1, 1.5, 0.2, 1.6, 0.3, 1.7, 0.4, 1.8, 0.5, 1.9, 0.6, 2.0, 1.3, 1.0],
    [-7.4, -6.0, -7.5, -5.9, -4.4, -5.8, -4.3, -2.8, -4.2, -2.7, -1.2, -2.6, -1.1, 0.3, -1.0, 0.4, 1.8, 0.5, 1.9, 0.6, 2.0, 0.7, 2.1, 0.8, 2.2, 0.9, 2.3, 1.0, 2.4, 1.1, 2.5, 1.2, 2.6, 1.3, 2.0, 1.6],
    [-8.2, -9.6, -8.2, -9.6, -8.1, -6.6, -8.0, -6.5, -5.0, -6.4, -4.9, -3.4, -4.8, -3.3, -1.8, -3.2, -1.7, -0.3, -1.6, -0.2, 1.2, -0.1, 1.3, 0.0, 1.4, 0.1, 1.5, 0.2, 1.6, 0.3, 1.7, 0.4, 1.8, 0.5, 1.2, 0.8],
    [-8.9, -7.5, -9.0, -7.4, -8.8, -7.2, -5.7, -7.1, -5.6, -4.1, -5.5, -4.0, -2.5, -3.9, -2.4, -1.0, -2.3, -0.9, 0.5, -0.8, 0.6, 2.0, 0.7, 2.1, 0.8, 2.2, 0.9, 2.3, 1.0, 2.4, 1.1, 2.5, 1.2, 2.6, 1.9, 2.3],
    [10.2, 8.8, 10.3, 8.6, 7.1, 8.5, 7.0, 5.5, 6.9, 5.4, 3.9, 5.3, 3.8, 5.2, 3.7, 5.1, 3.6, 5.0, 3.5, 4.9, 3.4, 4.8, 3.3, 4.7, 3.2, 4.6, 3.1, 4.5, 3.0, 4.4, 2.9, 4.3, 2.8, 4.2, 3.5, 3.9],
]

# (b) further simulations, read on the DAYS3 grid
SERIES_B3 = [
    [8.5, 7.1, 8.4, 6.8, 5.4, 6.6, 5.2, 3.8, 5.0, 3.6, 4.9, 3.5, 4.8, 6.1, 4.7, 6.0, 4.6, 5.9, 4.5, 5.8, 4.4, 5.7, 4.3, 5.6, 4.2, 5.5, 4.1, 5.4, 4.0, 5.3, 3.9, 5.2, 3.8, 5.1, 4.5, 4.2],
    [6.4, 7.8, 6.2, 4.8, 6.0, 4.6, 3.2, 4.5, 3.1, 1.8, 3.0, 1.7, 2.9, 1.6, 2.8, 4.1, 2.7, 4.0, 2.6, 3.9, 2.5, 3.8, 2.4, 3.7, 2.3, 3.6, 2.2, 3.5, 2.1, 3.4, 2.0, 3.3, 1.9, 3.2, 2.5, 2.7],
    [4.8, 3.4, 2.0, 3.3, 1.9, 3.2, 4.5, 3.1, 4.4, 3.0, 4.3, 2.9, 4.2, 2.8, 4.1, 2.7, 4.0, 2.6, 3.9, 2.5, 3.8, 2.4, 3.7, 2.3, 3.6, 2.2, 3.5, 2.1, 3.4, 2.0, 3.3, 1.9, 3.2, 1.8, 2.6, 2.4],
    [2.4, 3.8, 2.2, 0.8, 2.0, 0.6, 1.9, 0.5, 1.8, 0.4, 1.7, 0.3, 1.6, 0.2, 1.5, 0.1, 1.4, 0.0, 1.3, -0.1, 1.2, -0.2, 1.1, -0.3, 1.0, -0.4, 0.9, -0.5, 0.8, -0.6, 0.7, -0.7, 0.6, -0.8, 0.0, 0.4],
    [0.2, -1.2, 0.1, 1.5, 0.2, 1.6, 0.3, 1.7, 3.0, 1.8, 3.1, 1.9, 3.2, 2.0, 3.3, 2.1, 3.4, 2.2, 3.5, 2.3, 3.6, 2.4, 3.7, 2.5, 3.8, 2.6, 3.9, 2.7, 4.0, 2.8, 4.1, 2.9, 4.2, 3.0, 3.6, 3.4],
    [-1.5, -0.1, 1.3, 0.0, 1.4, 0.1, 1.5, 0.2, 1.6, 0.3, 1.7, 0.4, 1.8, 0.5, 1.9, 0.6, 2.0, 0.7, 2.1, 0.8, 2.2, 0.9, 2.3, 1.0, 2.4, 1.1, 2.5, 1.2, 2.6, 1.3, 2.7, 1.4, 2.8, 1.5, 2.1, 1.9],
    [-2.9, -4.3, -2.8, -4.2, -2.7, -1.3, -2.6, -1.2, 0.1, -1.1, 0.2, 1.5, 0.3, 1.6, 0.4, 1.7, 0.5, 1.8, 0.6, 1.9, 0.7, 2.0, 0.8, 2.1, 0.9, 2.2, 1.0, 2.3, 1.1, 2.4, 1.2, 2.5, 1.3, 2.6, 1.9, 1.6],
    [-4.4, -3.0, -4.5, -3.0, -1.6, -2.9, -1.5, -0.1, -1.4, 0.0, 1.3, 0.1, 1.4, 2.7, 1.5, 2.8, 1.6, 2.9, 1.7, 3.0, 1.8, 3.1, 1.9, 3.2, 2.0, 3.3, 2.1, 3.4, 2.2, 3.5, 2.3, 3.6, 2.4, 3.7, 3.0, 3.2],
    [-5.3, -6.7, -5.2, -3.8, -5.1, -3.7, -2.3, -3.6, -2.2, -0.8, -2.1, -0.7, 0.6, -0.6, 0.7, -0.5, 0.8, -0.4, 0.9, 2.2, 1.0, 2.3, 1.1, 2.4, 1.2, 2.5, 1.3, 2.6, 1.4, 2.7, 1.5, 2.8, 1.6, 2.9, 2.3, 2.0],
    [-6.0, -4.6, -6.1, -4.6, -3.1, -4.5, -3.0, -1.6, -2.9, -1.5, -0.1, -1.4, 0.0, 1.3, 0.1, 1.4, 0.2, 1.5, 0.3, 1.6, 0.4, 1.7, 0.5, 1.8, 0.6, 1.9, 0.7, 2.0, 0.8, 2.1, 0.9, 2.2, 1.0, 2.3, 1.6, 1.3],
    [-7.1, -8.5, -7.0, -5.6, -6.9, -5.5, -4.1, -5.4, -4.0, -2.6, -3.9, -2.5, -1.1, -2.4, -1.0, 0.3, -0.9, 0.4, 1.7, 0.5, 1.8, 0.6, 1.9, 0.7, 2.0, 0.8, 2.1, 0.9, 2.2, 1.0, 2.3, 1.1, 2.4, 1.2, 1.8, 1.5],
    [-8.0, -6.6, -8.1, -6.5, -7.9, -6.4, -5.0, -6.3, -4.9, -3.5, -4.8, -3.4, -2.0, -3.3, -1.9, -0.6, -1.8, -0.5, 0.8, -0.4, 0.9, 2.2, 1.0, 2.3, 1.1, 2.4, 1.2, 2.5, 1.3, 2.6, 1.4, 2.7, 1.5, 2.8, 2.2, 1.9],
    [5.9, 4.5, 3.1, 4.4, 3.0, 1.6, 2.9, 1.5, 2.8, 1.4, 2.7, 1.3, 2.6, 1.2, 2.5, 3.8, 2.4, 3.7, 2.3, 3.6, 2.2, 3.5, 2.1, 3.4, 2.0, 3.3, 1.9, 3.2, 1.8, 3.1, 1.7, 3.0, 1.6, 2.9, 2.3, 2.1],
    [3.7, 5.1, 3.6, 5.0, 3.5, 4.9, 3.4, 4.8, 3.3, 4.7, 3.2, 4.6, 3.1, 4.5, 3.0, 4.4, 2.9, 4.3, 2.8, 4.2, 2.7, 4.1, 2.6, 4.0, 2.5, 3.9, 2.4, 3.8, 2.3, 3.7, 2.2, 3.6, 2.1, 3.5, 2.9, 3.1],
    [-0.9, -2.3, -0.8, 0.6, -0.7, 0.7, -0.6, 0.8, 2.1, 0.9, 2.2, 1.0, 2.3, 1.1, 2.4, 1.2, 2.5, 1.3, 2.6, 1.4, 2.7, 1.5, 2.8, 1.6, 2.9, 1.7, 3.0, 1.8, 3.1, 1.9, 3.2, 2.0, 3.3, 2.1, 2.7, 2.4],
    [-3.6, -2.2, -3.7, -2.1, -0.7, -2.0, -0.6, 0.8, -0.5, 0.9, -0.4, 1.0, -0.3, 1.1, -0.2, 1.2, -0.1, 1.3, 0.0, 1.4, 0.1, 1.5, 0.2, 1.6, 0.3, 1.7, 0.4, 1.8, 0.5, 1.9, 0.6, 2.0, 0.7, 2.1, 1.4, 1.1],
]

ZERO_DAYS = [1, 1100]
ZERO_VALS = [0, 0]

STATS_A = ["σ = 1.60", "X min = -6.20", "X 25 = -2.76", "X 50 = -1.56", "X 75 = -0.61", "X max = +3.61"]
STATS_B = ["σ = 1.56", "X min = -2.55", "X 25 = +1.08", "X 50 = +1.83", "X 75 = +2.86", "X max = +6.32"]

X_TICKS = [0, 200, 400, 600, 800, 1000]
Y_TICKS = [-15, -10, -5, 0, 5, 10, 15, 20]
Y_TICK_LABELS = ["-15", "-10", "-5", "0", "5", "10", "15", "20"]

FONT = "Liberation Sans, Arial, Helvetica, sans-serif"
INK = "#1a1a1a"


def px_x(p):
    return p / W


def px_y(p):
    return 1 - p / H


fig = go.Figure()

panels = [([(DAYS, SERIES_A), (DAYS2, SERIES_A2), (DAYS3, SERIES_A3)], "x", "y"),
          ([(DAYS, SERIES_B), (DAYS2, SERIES_B2), (DAYS3, SERIES_B3)], "x2", "y2")]
for groups, xa, ya in panels:
    for days, series in groups:
        for vals in series:
            fig.add_trace(go.Scatter(x=days, y=vals, mode="lines", xaxis=xa, yaxis=ya,
                                     line=dict(color="black", width=2.6, shape="hv"),
                                     hoverinfo="skip", showlegend=False))
    fig.add_trace(go.Scatter(x=ZERO_DAYS, y=ZERO_VALS, mode="lines", xaxis=xa, yaxis=ya,
                             line=dict(color="#e8141a", width=3.4),
                             hoverinfo="skip", showlegend=False))

# pixel boxes of the two panels (left, right, top, bottom)
boxes = {"a": (218, 1582, 24, 1249), "b": (1877, 3238, 32, 1250)}

axis_common = dict(showline=True, mirror=True, linecolor=INK, linewidth=3,
                   ticks="outside", ticklen=24, tickwidth=3, tickcolor=INK,
                   showgrid=False, zeroline=False,
                   tickfont=dict(family=FONT, size=38, color=INK))

fig.update_layout(
    width=W, height=H, margin=dict(l=0, r=0, t=0, b=0),
    paper_bgcolor="white", plot_bgcolor="white",
    xaxis=dict(domain=[px_x(218), px_x(1582)], range=[-42, 1144], anchor="y",
               tickvals=X_TICKS, ticklabelstandoff=2, **axis_common),
    yaxis=dict(domain=[px_y(1249), px_y(24)], range=[-16.39, 21.39], anchor="x",
               tickvals=Y_TICKS, ticktext=Y_TICK_LABELS, tickangle=-90,
               ticklabelstandoff=18, **axis_common),
    xaxis2=dict(domain=[px_x(1877), px_x(3238)], range=[-43, 1146], anchor="y2",
                tickvals=X_TICKS, ticklabelstandoff=2, **axis_common),
    yaxis2=dict(domain=[px_y(1250), px_y(32)], range=[-16.4, 21.4], anchor="x2",
                tickvals=Y_TICKS, ticktext=Y_TICK_LABELS, tickangle=-90,
                ticklabelstandoff=18, **axis_common),
)

ytitle = "X<sub>b</sub> − X<sub>t</sub> (m<sup>1/3</sup> s<sup>-1</sup>)"
ann = []
for key, tx, lab_x in [("a", 58, 808), ("b", 1717, 2465)]:
    l, r, t, b = boxes[key]
    ann.append(dict(x=px_x(tx), y=px_y((t + b) / 2), text=ytitle, textangle=-90,
                    font=dict(family=FONT, size=50, color=INK)))
    ann.append(dict(x=px_x((l + r) / 2), y=px_y(1417), text="Number of days",
                    font=dict(family=FONT, size=38, color=INK)))
    ann.append(dict(x=px_x(lab_x), y=px_y(1522), text="(<b>%s</b>)" % key,
                    font=dict(family="Liberation Serif, Times New Roman, serif", size=76, color="black")))

for lines, x0, ys in [(STATS_A, 1122, [145, 201, 257, 313, 370, 428]),
                      (STATS_B, 2872, [903, 960, 1017, 1075, 1132, 1190])]:
    for txt, yy in zip(lines, ys):
        ann.append(dict(x=px_x(x0), y=px_y(yy), text=txt, xanchor="left",
                        font=dict(family=FONT, size=46, color=INK)))

for a in ann:
    a.update(xref="paper", yref="paper", showarrow=False)
    a.setdefault("xanchor", "center")
    a.setdefault("yanchor", "middle")
fig.update_layout(annotations=ann)

fig.write_html("out.html")
